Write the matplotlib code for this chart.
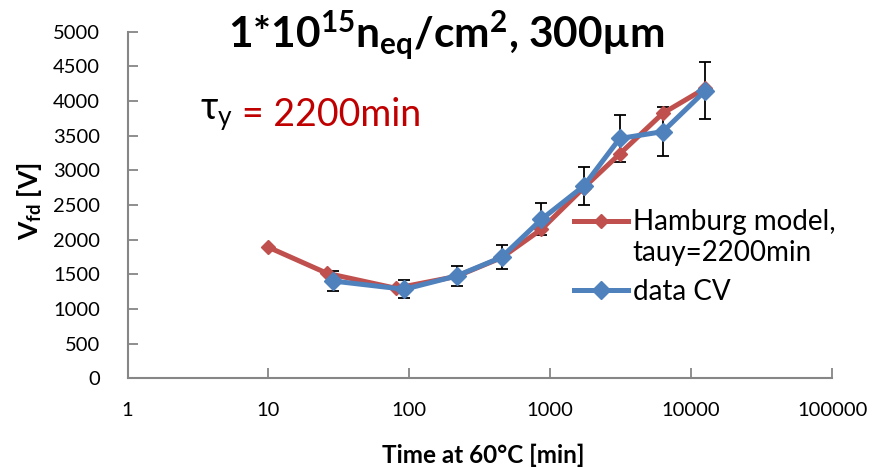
import matplotlib
matplotlib.use("Agg")
import matplotlib.pyplot as plt
from matplotlib.lines import Line2D
import numpy as np

plt.rcParams['font.family'] = ['Lato', 'DejaVu Sans']
plt.rcParams['mathtext.fontset'] = 'custom'
plt.rcParams['mathtext.rm'] = 'Lato'
plt.rcParams['mathtext.bf'] = 'Lato:bold'
plt.rcParams['mathtext.it'] = 'Lato:italic'

# Hamburg model (red)
t_model = [10, 26, 80, 216, 451, 866, 1729, 3110, 6300, 12600]
v_model = [1890, 1515, 1299, 1470, 1740, 2150, 2750, 3237, 3824, 4185]

# measured CV data (blue)
t_data = [28.5, 92, 216, 451, 866, 1729, 3110, 6300, 12600]
v_data = [1404, 1284, 1476, 1746, 2294, 2775, 3460, 3559, 4150]
v_err = [140, 130, 150, 170, 230, 275, 345, 355, 413]

red = '#C0504D'
blue = '#4F81BD'
grey = '#868686'

fig = plt.figure(figsize=(8.74, 4.67), dpi=100)
ax = fig.add_axes([0.146, 0.19, 0.806, 0.742])

ax.plot(t_model, v_model, color=red, lw=3.6, marker='D', ms=7, zorder=3)
ax.errorbar(t_data, v_data, yerr=v_err, fmt='none', ecolor='black',
            elinewidth=1.3, capsize=4, capthick=1.3, zorder=2)
ax.plot(t_data, v_data, color=blue, lw=3.6, marker='D', ms=9.5, zorder=4)

ax.set_xscale('log')
ax.set_xlim(1, 100000)
ax.set_ylim(0, 5000)
ax.set_xticks([1, 10, 100, 1000, 10000, 100000])
ax.set_xticklabels(['1', '10', '100', '1000', '10000', '100000'])
ax.minorticks_off()
ax.set_yticks(np.arange(0, 5001, 500))

for s in ['top', 'right']:
    ax.spines[s].set_visible(False)
for s in ['left', 'bottom']:
    ax.spines[s].set_color(grey)
    ax.spines[s].set_linewidth(1.5)
ax.tick_params(axis='both', direction='in', length=7, width=1.3, color=grey,
               labelsize=14.5)
ax.tick_params(axis='y', pad=20)
ax.tick_params(axis='x', pad=17)

ax.set_xlabel('Time at 60°C [min]', fontsize=17.5, fontweight='bold')
ax.xaxis.set_label_coords(0.505, -0.19)
ax.set_ylabel(r'V$_{\mathbf{fd}}$ [V]', fontsize=19, fontweight='bold')
ax.yaxis.set_label_coords(-0.118, 0.51)

fig.text(0.511, 0.925, r'1*10$^{\mathbf{15}}$n$_{\mathbf{eq}}$/cm$^{\mathbf{2}}$, 300µm',
         ha='center', va='center', fontsize=30.5, fontweight='bold')
fig.text(0.229, 0.753, r'$\mathrm{\tau_y}$', fontsize=27, ha='left', va='center')
fig.text(0.277, 0.753, '= 2200min', fontsize=27, color='#C00000', ha='left', va='center')

# legend drawn Excel-style (handle aligned with first text line)
for yl, col, ms in [(0.527, red, 7), (0.379, blue, 9.5)]:
    fig.add_artist(Line2D([0.657, 0.7185], [yl, yl], color=col, lw=3.6))
    fig.add_artist(Line2D([0.688], [yl], color=col, marker='D', ms=ms, lw=0))
fig.text(0.724, 0.525, 'Hamburg model,', fontsize=20, ha='left', va='center')
fig.text(0.724, 0.458, 'tauy=2200min', fontsize=20, ha='left', va='center')
fig.text(0.724, 0.375, 'data CV', fontsize=20, ha='left', va='center')

fig.savefig('out.png', dpi=100)
